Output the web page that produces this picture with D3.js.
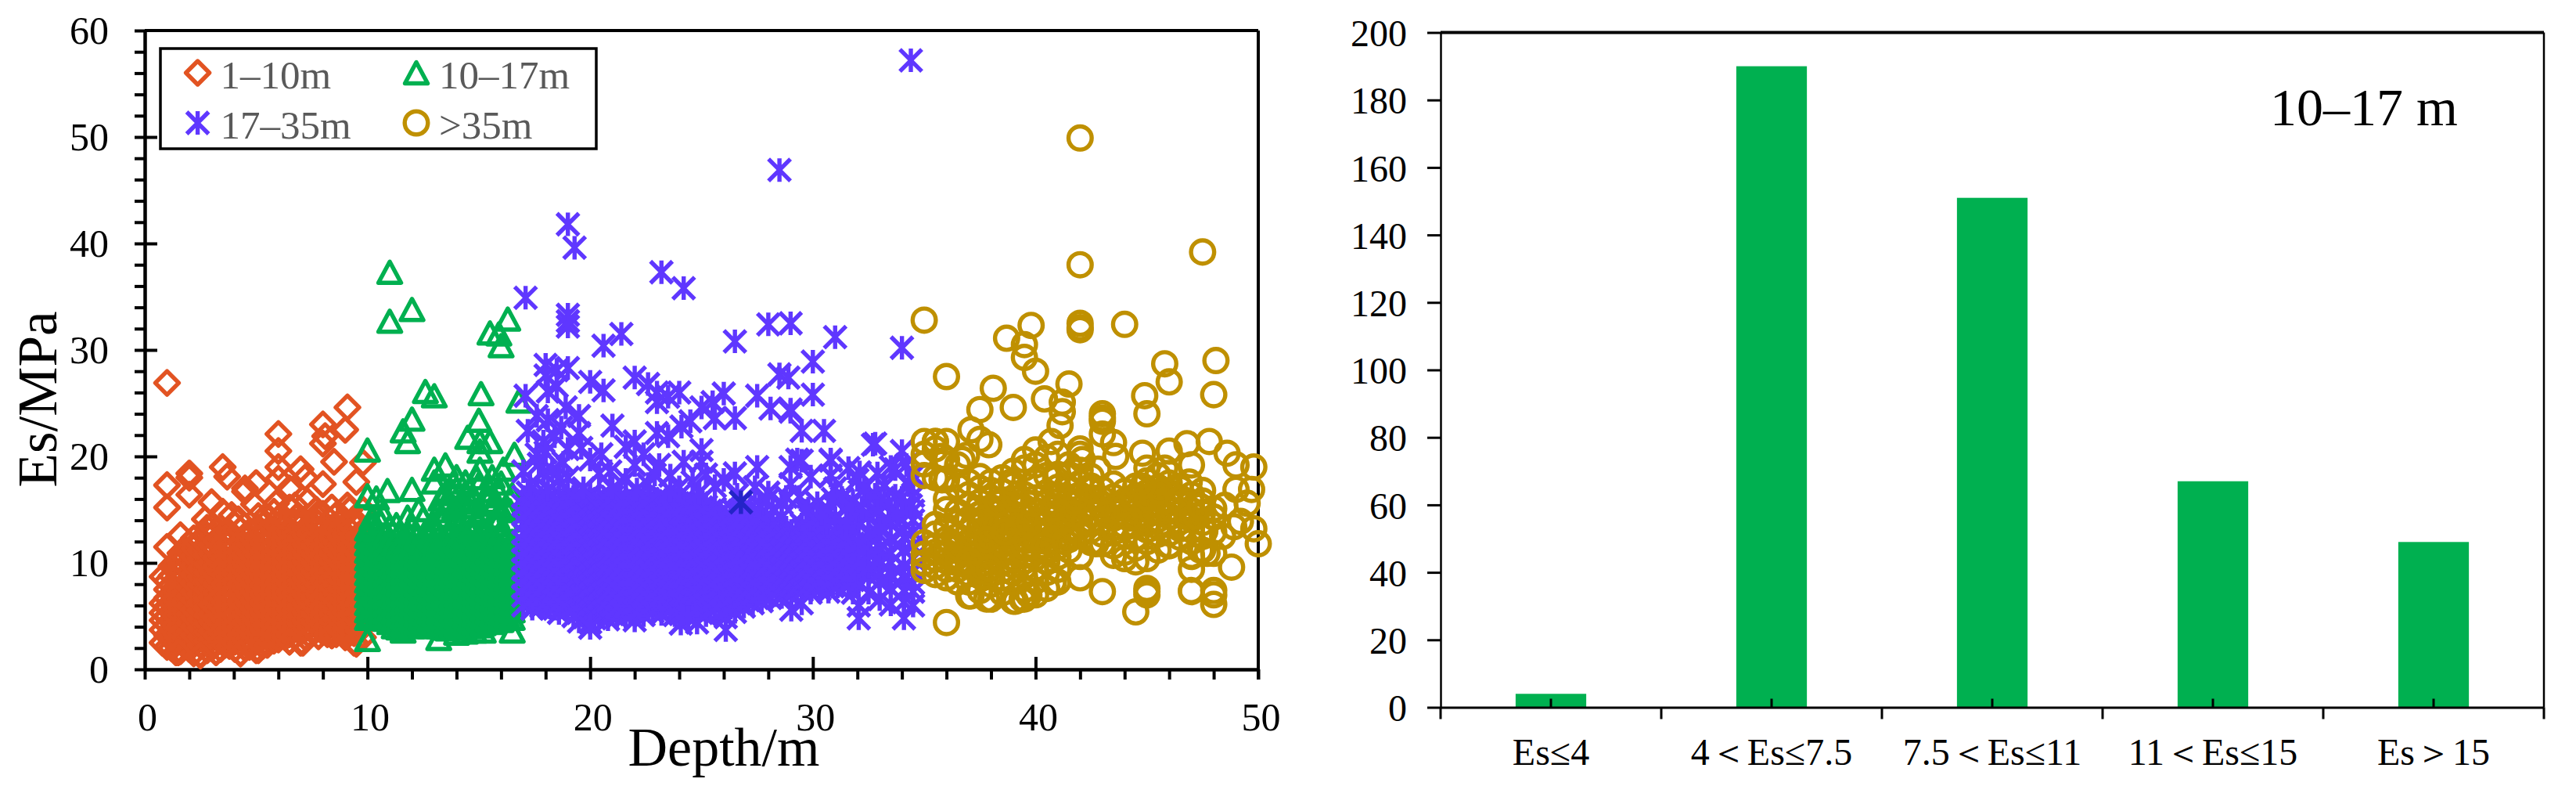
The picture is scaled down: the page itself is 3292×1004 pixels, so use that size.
<!DOCTYPE html>
<html>
<head>
<meta charset="utf-8">
<title>Es and depth</title>
<style>
	body { margin: 0; background: #fff; }
	text { font-family: "Liberation Serif", serif; fill: #000; }
	.tick text { font-family: "Liberation Serif", serif; fill: #000; }
</style>
</head>
<body>
<svg id="chart" width="3292" height="1004"></svg>
<script src="https://cdnjs.cloudflare.com/ajax/libs/d3/7.8.5/d3.min.js"></script>
<script>
// dense bands are kept as [depth, [Es, Es, ...]], loose points as [depth, Es]
var shallowDense = [
	[0.8,[2.5,3.7,4.6,5.3,6.2]],
	[1,[2.1,3.2,4.2,5,5.9,6.7,7.5,8.3]],
	[1.2,[2.0,2.9,3.8,4.6,5.4,6.2,7.1,7.9,8.8,9.7]],
	[1.4,[1.6,2.4,3.3,4.1,5,5.7,6.6,7.5,8.4,9.2,10.1]],
	[1.6,[1.7,2.6,3.4,4.2,5.1,5.8,6.6,7.4,8.3,9.1,10,10.9]],
	[1.8,[2.2,3,3.9,4.7,5.5,6.4,7.2,8,8.8,9.6,10.5,11.3]],
	[2,[1.9,2.8,3.6,4.4,5.2,6,6.9,7.7,8.5,9.2,10.1,11,11.8]],
	[2.2,[1.5,2.4,3.2,4,4.9,5.6,6.5,7.3,8.1,8.9,9.7,10.6,11.4,12.3]],
	[2.5,[1.4,2.3,3.1,3.9,4.7,5.6,6.3,7.1,8,8.7,9.5,10.4,11.2,12.2]],
	[2.8,[1.8,2.7,3.5,4.3,5.1,5.9,6.7,7.5,8.3,9.1,9.9,10.8,11.6,12.6,13.3]],
	[3,[2,2.8,3.6,4.5,5.2,6.1,6.8,7.6,8.4,9.3,10.1,10.9,11.7,12.5,13.4]],
	[3.2,[1.6,2.4,3.2,4.1,4.8,5.7,6.4,7.2,8.1,8.9,9.7,10.5,11.3,12.1,13]],
	[3.4,[1.9,2.7,3.5,4.3,5.1,5.9,6.8,7.6,8.3,9.1,10,10.8,11.6,12.4]],
	[3.6,[2.3,3.1,3.9,4.7,5.5,6.3,7.2,8,8.8,9.6,10.4,11.2,12,12.8]],
	[3.8,[2.2,3,3.8,4.6,5.5,6.3,7.1,7.9,8.7,9.5,10.3,11.1,11.9,12.9]],
	[4.05,[1.9,2.6,3.4,4.2,5,5.9,6.7,7.5,8.3,9.1,9.9,10.7,11.5,12.4,13.6]],
	[4.3,[1.5,2.4,3.2,4,4.8,5.6,6.4,7.2,8,8.8,9.6,10.4,11.2,12,13.1]],
	[4.5,[2,2.8,3.6,4.4,5.2,6,6.8,7.6,8.4,9.2,10,10.8,11.6,12.5]],
	[4.7,[2.1,2.9,3.7,4.5,5.3,6.1,6.9,7.7,8.5,9.3,10.1,10.9,11.8,12.5]],
	[4.9,[2.4,3.2,4,4.9,5.7,6.5,7.3,8.1,8.9,9.7,10.5,11.3,12.1,13]],
	[5.1,[1.8,2.7,3.5,4.3,5.1,5.9,6.7,7.5,8.3,9.1,9.9,10.7,11.5,12.3,13.3]],
	[5.3,[2.2,3,3.8,4.7,5.4,6.2,7,7.9,8.7,9.5,10.3,11.1,11.9,12.7]],
	[5.5,[2.3,3.1,3.9,4.7,5.5,6.3,7.1,7.9,8.7,9.5,10.3,11.1,12,12.9]],
	[5.8,[2.7,3.6,4.4,5.2,6,6.8,7.6,8.4,9.2,10,10.8,11.6,12.4,13.2,14.8]],
	[6,[2.8,3.4,4.2,5,5.8,6.6,7.4,8.2,9,9.8,10.6,11.4,12.2,13.6]],
	[6.3,[3,3.8,4.6,5.4,6.2,7,7.8,8.6,9.4,10.2,11,11.8,12.6,13.4]],
	[6.5,[2.6,3.3,4.1,4.9,5.7,6.5,7.3,8.1,8.9,9.7,10.5,11.3,12.1,13]],
	[6.75,[3.1,3.9,4.7,5.5,6.3,7.1,7.9,8.7,9.5,10.3,11.1,11.9,12.7,13.8,15.4]],
	[7,[2.5,3.5,4.3,5.1,5.9,6.7,7.5,8.3,9.1,9.9,10.7,11.5,12.4,13.5]],
	[7.2,[3,3.8,4.6,5.4,6.2,7,7.8,8.6,9.4,10.2,11,11.8,12.6,13.2]],
	[7.4,[3.2,4,4.8,5.6,6.4,7.2,8,8.8,9.6,10.4,11.2,12,12.9]],
	[7.6,[3.5,4.4,5.2,6,6.8,7.6,8.4,9.2,10,10.8,11.6,12.4,13.5]],
	[7.8,[3.1,3.9,4.7,5.5,6.3,7.1,7.9,8.7,9.5,10.3,11.1,11.9,13.7]],
	[8,[3.5,4.3,5.1,5.9,6.7,7.5,8.3,9.1,9.9,10.7,11.5,12.3,13.1,14.6]],
	[8.2,[3.3,4.1,4.9,5.7,6.5,7.3,8.1,8.9,9.7,10.5,11.3,12.1,12.8]],
	[8.4,[3.2,3.7,4.5,5.3,6.1,6.9,7.7,8.5,9.3,10.1,10.9,11.7,12.5,13.3]],
	[8.6,[3.3,4,4.8,5.6,6.4,7.2,8,8.8,9.6,10.4,11.2,12,13.4,14.5]],
	[8.8,[3.6,4.4,5.2,6,6.8,7.6,8.4,9.2,10,10.8,11.6,12.4,13.2]],
	[9,[3,3.8,4.6,5.4,6.2,7,7.8,8.6,9.4,10.2,11,11.8,12.7]],
	[9.2,[3.4,4.2,5,5.8,6.6,7.4,8.2,9,9.8,10.6,11.4,12.2,13.1,15]],
	[9.4,[2.5,3.4,4.2,5,5.8,6.6,7.4,8.2,9,9.8,10.6,11.4,12.2,14.1]],
	[9.6,[3.6,4.5,5.4,6.3,7.2,8.1,9,9.9,10.8,11.7,12.6,13.5]],
	[9.8,[3,4,5,6,7,8,9,10,11,12,13,15]]
];
var shallowLoose = [
	[1,26.9],[1,15.2],[1,17.3],[2,18.4],[2,18],[2,16.4],[3.5,19],[3.7,18.1],[4.5,17],[4.5,16.7],
	[5,17.5],[3,15.7],[3.5,14.8],[6,22.1],[6,20.5],[6,19],[6,17.9],[7,18.8],[7.2,18],[6.5,17],
	[8,23],[8.1,21.9],[8,21.2],[8.5,19.5],[9.1,24.6],[9,22.5],[9.8,19.4],[9.5,17.6],[8,17.4],
	[5.6,14.2],[4.2,14.1],[5.1,14.4],[1.6,12.6],[1,11.5],[0.8,8.7],[7.1,2.5],[2.5,1.3],[4.3,1.5],
	[9.5,2.4],[1.5,1.6],[5,1.8],[6.5,2.6],[8.4,3.2],[3.9,14.5],[5.9,15.6],[6.5,15.2],[7.3,15.8],
	[7.7,15],[8.4,15.2],[9.1,15.4],[4.9,15.5],[2.7,14.1],[6.1,14.4],[6.8,14.3],[8.9,14.2]
];
var middleDense = [
	[10,[2.8,4.8,5.5,6.2,6.9,7.6,8.3,9,9.7,10.4,11.1,11.8,12.5,13.2]],
	[10.2,[5.1,5.8,6.5,7.3,8,8.7,9.4,10.1,10.8,11.5,12.2,13.5,14.2]],
	[10.4,[4.8,5.5,6.3,7,7.7,8.4,9.1,9.8,10.5,11.2,11.9,13.1]],
	[10.6,[5,5.7,6.6,7.3,8,8.7,9.4,10.1,10.8,11.5,12.3,13.8]],
	[10.8,[4.7,5.4,6.1,6.8,7.5,8.2,8.9,9.6,10.3,11,11.7,12.6]],
	[11,[4.4,5,5.7,6.4,7.1,7.8,8.5,9.2,9.9,10.6,11.3,12.1,13.4]],
	[11.2,[4,4.7,5.4,6.1,6.8,7.5,8.2,8.9,9.6,10.3,11,11.8]],
	[11.4,[3.9,4.5,5.2,5.9,6.6,7.3,8,8.7,9.4,10.1,10.8,11.5,12.7]],
	[11.6,[3.6,4.2,4.9,5.6,6.3,7,7.7,8.4,9.1,9.8,10.5,11.2,12.3]],
	[11.8,[4.4,5.1,5.8,6.5,7.2,7.9,8.6,9.3,10,10.7,11.4,12.1,12.9]],
	[12,[4,4.7,5.4,6.1,6.8,7.5,8.2,8.9,9.6,10.3,11,11.7,13.4]],
	[12.2,[4.4,5.1,5.8,6.5,7.2,7.9,8.6,9.3,10,10.7,11.4,12.4]],
	[12.4,[4.1,4.8,5.5,6.2,6.9,7.6,8.3,9,9.7,10.4,11.1,11.9]],
	[12.6,[4.5,5.2,5.9,6.6,7.3,8,8.7,9.4,10.1,10.8,11.5,12.9]],
	[12.8,[4,4.7,5.4,6.1,6.8,7.5,8.2,8.9,9.6,10.3,11,12.5]],
	[13,[4.4,5.1,5.8,6.5,7.2,7.9,8.6,9.3,10,10.7,11.4,12.1,13.6]],
	[13.2,[2.9,4,4.7,5.4,6.1,6.8,7.5,8.2,8.9,9.6,10.3,11,11.7]],
	[13.4,[4.2,4.9,5.6,6.3,7,7.7,8.4,9.1,9.8,10.5,11.2,12.4,14.1]],
	[13.6,[3.8,4.5,5.2,5.9,6.6,7.3,8,8.7,9.4,10.1,10.8,11.5,12.8]],
	[13.8,[4.1,4.8,5.5,6.2,6.9,7.6,8.3,9,9.7,10.4,11.1,11.8,13.3]],
	[14,[3.4,4.2,4.9,5.6,6.3,7,7.7,8.4,9.1,9.8,10.5,11.2,12]],
	[14.2,[3.9,4.6,5.3,6,6.7,7.4,8.1,8.8,9.5,10.2,10.9,11.6,12.8,13.6]],
	[14.4,[3.5,4.3,5,5.7,6.4,7.1,7.8,8.5,9.2,9.9,10.6,11.3,12.5]],
	[14.6,[4,4.7,5.4,6.1,6.8,7.5,8.2,8.9,9.6,10.3,11,11.7,13.1]],
	[14.8,[3.6,4.4,5.1,5.8,6.5,7.2,7.9,8.6,9.3,10,10.7,11.4]],
	[15,[4.1,4.8,5.5,6.2,6.9,7.6,8.3,9,9.7,10.4,11.1,11.8,12.5,13.9]],
	[15.2,[3.6,4.3,5,5.7,6.4,7.1,7.8,8.5,9.2,9.9,10.6,11.3,12.7]],
	[15.4,[4.7,5.4,6.1,6.8,7.5,8.2,8.9,9.6,10.3,11,11.7,13.2]],
	[15.6,[4.4,5.1,5.8,6.5,7.2,7.9,8.6,9.3,10,10.7,11.4,12.2]],
	[15.8,[4.9,5.6,6.3,7,7.7,8.4,9.1,9.8,10.5,11.2,11.9,13.6]],
	[16,[4.6,5.3,6,6.7,7.4,8.1,8.8,9.5,10.2,10.9,11.6,12.9]],
	[16.25,[5,5.7,6.4,7.1,7.8,8.5,9.2,9.9,10.6,11.3,12.4,14]],
	[16.5,[3.6,4.8,5.5,6.2,6.9,7.6,8.3,9,9.7,10.4,11.1,12]]
];
var middleLoose = [
	[11,37.3],[11,32.7],[12,33.8],[16.3,32.9],[15.5,31.6],[15.9,31.5],[16,30.4],
	[12.6,26.1],[13,25.7],[15.1,25.9],[16.8,25.2],[12,23.5],[11.6,22.4],[11.8,21.4],[10,20.6],
	[15,23.4],[14.5,21.8],[15.05,21.4],[15.5,21.4],[15.05,20.5],[16.6,20.2],
	[13,18.8],[13.5,19.2],[14,18.1],[15.05,18.8],[16.1,18.8],[13,17.6],[10.9,16.8],[12,16.9],
	[10,16.3],[10.4,16.1],[11.8,14.3],[12.5,14.2],[14.7,14.8],[13.6,15.6],[14.5,15.3],[15.5,16.8],
	[13.5,16.5],[10.7,14.6],[14,17],[14.4,16.6],[15,17.4],[15.4,15.8],[16,17.5],[16.5,16.4],
	[13.2,14.9],[14,14.2],[15.1,14.9],[15.8,14.3],[16.2,15.2],[11.3,13.6],[12.9,13.5],[14.7,13.3],
	[13.3,16],[13.8,16.7],[14.2,15.7],[14.8,16],[15.3,16.3],[15.7,15.5],[16.4,14.9],[12.3,15],[13.9,15.2],
	[14.4,17.6],[14.9,18],[15.6,18.1],[15.9,16.6]
];
var deepDense = [
	[17,[6,6.9,7.7,8.6,9.4,10.3,11.1,12,12.8,13.7,14.5,15.4,16.2]],
	[17.2,[6.4,7.3,8.1,9,9.8,10.7,11.5,12.4,13.2,14.1,14.9,15.8,16.6]],
	[17.4,[5.7,6.6,7.4,8.3,9.1,10,10.8,11.7,12.5,13.4,14.2,15.1,15.9]],
	[17.6,[6.2,7,7.9,8.7,9.6,10.4,11.3,12.1,13,13.8,14.7,15.5]],
	[17.8,[5.9,6.8,7.6,8.5,9.3,10.2,11,11.9,12.7,13.6,14.4,15.3,16.1]],
	[18,[6.3,7.2,8,8.9,9.7,10.6,11.4,12.3,13.1,14,14.8,15.7,16.5]],
	[18.2,[5.8,6.7,7.5,8.4,9.2,10.1,10.9,11.8,12.6,13.5,14.3,15.2,16]],
	[18.4,[5.7,6.5,7.3,8.1,9,9.8,10.7,11.5,12.4,13.2,14.1,14.9,15.8]],
	[18.6,[5.3,6.2,7.1,7.9,8.8,9.6,10.5,11.3,12.2,13,13.9,14.7,15.6]],
	[18.8,[5.9,6.7,7.6,8.4,9.3,10.1,11,11.8,12.7,13.5,14.4,15.2,16.1]],
	[19,[5.6,6.5,7.3,8.2,9,9.9,10.7,11.6,12.4,13.3,14.1,15,15.9]],
	[19.25,[5,5.9,6.8,7.6,8.5,9.3,10.2,11,11.9,12.7,13.6,14.4,15.3,16.2]],
	[19.5,[4.5,5.4,6.3,7.2,8,8.9,9.7,10.6,11.4,12.3,13.1,14,14.8,15.7]],
	[19.75,[4.9,5.8,6.6,7.5,8.3,9.2,10,10.9,11.7,12.6,13.4,14.3,15.1,16]],
	[20,[4.4,5.3,6.1,7,7.8,8.7,9.5,10.4,11.2,12.1,12.9,13.8,14.6,15.5,16.4]],
	[20.2,[4.8,5.7,6.5,7.4,8.2,9.1,9.9,10.8,11.6,12.5,13.3,14.2,15,15.9]],
	[20.4,[5,5.9,6.7,7.6,8.4,9.3,10.1,11,11.8,12.7,13.5,14.4,15.2,16.1]],
	[20.6,[5.4,6.3,7.1,8,8.8,9.7,10.5,11.4,12.2,13.1,13.9,14.8,15.6]],
	[20.8,[4.7,5.6,6.4,7.3,8.1,9,9.8,10.7,11.5,12.4,13.2,14.1,14.9,15.8]],
	[21,[5.2,6,6.9,7.7,8.6,9.4,10.3,11.1,12,12.8,13.7,14.5,15.4,16.2]],
	[21.2,[4.9,5.8,6.6,7.5,8.3,9.2,10,10.9,11.7,12.6,13.4,14.3,15.1,16]],
	[21.4,[5.4,6.2,7.1,7.9,8.8,9.6,10.5,11.3,12.2,13,13.9,14.7,15.6]],
	[21.6,[5,5.9,6.7,7.6,8.4,9.3,10.1,11,11.8,12.7,13.5,14.4,15.2,16.2]],
	[21.8,[5.3,6.3,7.2,8,8.9,9.7,10.6,11.4,12.3,13.1,14,14.8,15.7]],
	[22,[4.6,5.5,6.3,7.2,8,8.9,9.7,10.6,11.4,12.3,13.1,14,14.8,15.7]],
	[22.2,[5.5,6.4,7.2,8.1,8.9,9.8,10.6,11.5,12.3,13.2,14,14.9,15.8]],
	[22.4,[5.1,6,6.8,7.7,8.5,9.4,10.2,11.1,11.9,12.8,13.6,14.5,15.3,16.2]],
	[22.6,[5.8,6.6,7.5,8.3,9.2,10,10.9,11.7,12.6,13.4,14.3,15.1,16]],
	[22.8,[5.4,6.3,7.1,8,8.8,9.7,10.5,11.4,12.2,13.1,13.9,14.8,15.6]],
	[23,[5.8,6.6,7.5,8.3,9.2,10,10.9,11.7,12.6,13.4,14.3,15.1,16]],
	[23.2,[5.2,6.1,6.9,7.8,8.6,9.5,10.3,11.2,12,12.9,13.7,14.6,15.4]],
	[23.4,[5.7,6.5,7.4,8.2,9.1,9.9,10.8,11.6,12.5,13.3,14.2,15,15.9]],
	[23.6,[5.6,6.5,7.3,8.2,9,9.9,10.7,11.6,12.4,13.3,14.1,15,15.8]],
	[23.8,[5.1,6,6.9,7.7,8.6,9.4,10.3,11.1,12,12.8,13.7,14.5,15.4]],
	[24.07,[4.3,5.3,6.2,7,7.9,8.7,9.6,10.4,11.3,12.1,13,13.8,14.7,15.6]],
	[24.25,[5.2,6.1,7,7.8,8.7,9.5,10.4,11.2,12.1,12.9,13.8,14.6,15.5]],
	[24.4,[5.7,6.6,7.4,8.3,9.1,10,10.8,11.7,12.5,13.4,14.2,15.1]],
	[24.6,[5.6,6.4,7.3,8.1,9,9.8,10.7,11.5,12.4,13.2,14.1,14.9,15.7]],
	[24.8,[4.4,5.4,6.3,7.1,8,8.8,9.7,10.5,11.4,12.2,13.1,13.9,14.8,15.6]],
	[25,[5.8,6.7,7.5,8.4,9.2,10.1,10.9,11.8,12.6,13.5,14.3,15.2]],
	[25.2,[5.1,6,6.8,7.7,8.5,9.4,10.2,11.1,11.9,12.8,13.6,14.5,15.3]],
	[25.4,[5.6,6.4,7.3,8.1,9,9.8,10.7,11.5,12.4,13.2,14.1,14.9]],
	[25.6,[5.8,6.6,7.5,8.3,9.2,10,10.9,11.7,12.6,13.4,14.3,15.1]],
	[25.85,[5.3,6.2,7.1,7.9,8.8,9.6,10.5,11.3,12.2,13,13.9,14.7]],
	[26.09,[3.7,4.9,5.8,6.7,7.5,8.4,9.2,10.1,10.9,11.8,12.6,13.5,14.3]],
	[26.3,[5.8,6.8,7.6,8.5,9.3,10.2,11,11.9,12.7,13.6,14.5]],
	[26.5,[5.4,6.3,7.1,8,8.8,9.7,10.5,11.4,12.2,13.1,13.9,14.8]],
	[26.7,[6.2,7.2,8,8.9,9.7,10.6,11.4,12.3,13.1,14,14.9]],
	[26.9,[5.9,6.8,7.6,8.5,9.3,10.2,11,11.9,12.7,13.6,14.4]],
	[27.1,[6.5,7.5,8.3,9.2,10,10.9,11.7,12.6,13.4,14.2]],
	[27.3,[6.2,7.1,7.9,8.8,9.6,10.5,11.3,12.2,13,13.9]],
	[27.5,[6.7,7.7,8.5,9.4,10.2,11.1,11.9,12.8,13.6]],
	[27.7,[6.4,7.3,8.1,9,9.8,10.7,11.5,12.4,13.2,14.6]],
	[27.9,[7,8,8.8,9.7,10.5,11.4,12.2,13.1,13.9]],
	[28.1,[6.7,7.6,8.4,9.3,10.1,11,11.8,12.7,13.5]],
	[28.35,[7.2,8.1,9,9.8,10.7,11.5,12.4,13.2]],
	[28.6,[6.8,7.7,8.5,9.4,10.2,11.1,11.9,12.8,14.3]],
	[28.8,[7.3,8.2,9,9.9,10.7,11.6,12.4,13.3]],
	[29.03,[5.6,7,7.9,8.7,9.6,10.4,11.3,12.1,13]],
	[29.25,[7.6,8.5,9.3,10.2,11,11.9,12.8]],
	[29.5,[6.2,7.4,8.2,9.1,9.9,10.8,11.6,12.5,13.6]],
	[29.7,[7.7,8.6,9.4,10.3,11.1,12,12.9]],
	[29.9,[7.2,8.1,8.9,9.8,10.6,11.5,12.3,14.1]],
	[30.1,[7.9,8.7,9.5,10.4,11.2,12.1,13]],
	[30.3,[7.5,8.4,9.2,10.1,10.9,11.8,12.6,13.3]],
	[30.5,[8,8.8,9.7,10.5,11.4,12.2]],
	[30.7,[7.3,8.2,9,9.9,10.7,11.6,12.4,15]],
	[30.9,[7.8,8.6,9.5,10.3,11.2,12]],
	[31.1,[7.8,8.7,9.5,10.4,11.2,12.1,13.4]],
	[31.35,[8.3,9.1,10,10.8,11.7,12.8]],
	[31.6,[7.9,8.8,9.6,10.5,11.3,12.5,15.3]],
	[31.8,[7.2,8.4,9.3,10.2,11,11.8,13.2]],
	[32.06,[4.8,6,8.2,9.3,10.1,11.1,12,13.9]],
	[32.5,[7.2,8.7,9.6,10.8,11.7,12.7,14.4]],
	[33,[6.6,8.2,9.1,10.2,11.4,12.6,13.5,15.8]],
	[33.5,[6.1,7.6,8.9,10,10.9,12.2,13.8,14.7]],
	[34.09,[4.8,6.3,7.4,8.6,9.7,11.2,12.4,13.1,15.2]],
	[34.5,[6,7.3,8.1,9.2,10.4,11.6,12.9,14,14.9,16.3]]
];
var deepLoose = [
	[34.4,57.2],[28.5,46.9],[19,41.8],[19.3,39.6],[23.2,37.3],[24.2,35.8],[17.1,34.9],
	[19,33.3],[19,32.7],[19,32.2],[21.4,31.5],[20.6,30.4],[26.5,30.8],[28,32.4],[29,32.5],
	[31,31.2],[30,28.9],[28.5,27.7],[28.9,27.4],[30,25.8],[34,30.2],
	[18,28.6],[18.5,28.1],[19,28.3],[18,27.6],[18.5,26.6],[18.1,26.1],[17.1,25.7],[20,27],[20.6,26.2],
	[22,27.4],[22.6,26.8],[23,26],[23,25.1],[24,26],[23.5,25.6],[26,25.9],[25.5,25.1],[25,24.6],
	[27.5,25.7],[28.1,24.5],[29,24.4],[29,24.2],[26.5,23.6],[25.6,23.6],[24.5,23.3],[24.1,22.8],
	[19.5,23.8],[21,22.9],[23,22.2],[23.5,21.9],[22,21.4],[29.5,22.4],[30.5,22.4],[32.7,21.1],
	[29.5,19.6],[29,19],[30.8,19.6],[31.6,18.9],[33.5,19],[32,17.8],[32.8,16.3],[25,20.6],[25,19.5],
	[24.2,19.5],[19,20.7],[19.5,22.2],[18.1,23.4],[17.9,21.4],[20,19.7],[17,18.6],[17.9,18.5],
	[27.5,19],[26.5,18.4],[28,16.6],[22,19.2],[22.4,20.2],[23.1,19.2],[32.8,21.2],[34,20.5],
	[29.3,19.7],[30.8,19.7],[32.8,16.4],[32.1,18.5],[31,17],[33.7,18.8],[33.7,16.3],[34.3,17.3],
	[30,14.1],[31.5,15.3],[33,15.8],[17.6,20.2],[18.4,21.9],[18.8,19.4],[17.3,17.4],[18.1,16.9],
	[19,18],[19.7,17],[18.6,17.8],[20.4,18.4],[21,17],[21.6,17.8],[22.6,17.4],[23.6,18.2],[24.6,17.6],
	[25.6,17.2],[26.6,16.4],[27.4,17.1],[28.6,15.6],[29.4,16.2],[30.2,15.6],[29,17.4],[30.6,13.8],
	[31.9,14.9],[32.9,18.4],[34.5,18.2],[34.2,19.2],[28.2,15],[27.6,15.4],[24.4,4.9],[20,3.9],
	[17.7,19.3],[18.3,18.7],[17.2,22.4],[18,20.4],[18.7,22.7],[19.6,20.8],[20.5,20.2],[17.6,23.8],[18.9,24.6],
	[21.6,20.9],[24,17.1],[22.9,18.3],[26,17.8],[25.2,18.3],[23.6,16.8],[20.9,18.6],[22.1,16.9],[24.9,16.6],
	[29.8,15.1],[30.4,14.6],[31,14.2],[31.3,16.1],[31.8,15.8],[32.2,15.2],[32.5,16.2],[32.9,14.8],
	[33.2,17.2],[33.4,15.6],[33.8,14.5],[34,16.1],[34.4,15.4],[30.9,16],[32.3,17],[33,13.2],[31.5,13.6],
	[28.8,16.2],[27.9,15.8],[27.2,15.2],[29.7,14.9],[30.8,18.2],[29.9,18.1]
];
var darkPoint = [[26.77,15.7]];
var bottomDense = [
	[35,[9.3,10,10.8,11.9,19.3,20.2,21.4]],
	[35.5,[8.9,9.7,10.4,11,11.6,12.7,13.6,18,20.7,21.4]],
	[36,[8.6,9.4,10.2,11,11.6,12.2,13.4,15,16,17.8,4.4,21.4,19.7]],
	[36.5,[8.2,9.4,10,10.6,11.5,12.5,13.8,14.8,17.2,19.2]],
	[37,[6.9,8.2,9,9.7,10.2,10.9,11.4,12,13,14.1,15.4,16.4,17.6]],
	[37.5,[7.4,8.8,9.3,9.8,10.4,10.9,11.7,12.6,13.5,14.6,15.7,17,18.1]],
	[38,[6.6,8,8.9,9.5,10.1,10.6,11.4,12.4,13.1,14.2,15.2,16,16.8,17.6]],
	[38.5,[7.2,8.6,9.3,10,10.8,11.2,11.8,12.5,13.3,14,15,15.9,16.7,18]],
	[39,[6.4,8.2,9.1,9.8,10.4,11.1,12,12.9,13.9,14.6,15.4,17.3,18.6]],
	[39.5,[6.6,7.5,8.8,9.6,10.2,10.7,11.5,12.3,13.2,14.4,15.2,16.4,18.9,19.7]],
	[40,[7,8.3,9.5,10.5,11.2,12.2,13.1,13.9,14.9,16.1,17.6,19.2,20.6]],
	[40.5,[7.6,9.1,10.1,11,12,12.9,13.7,14.7,15.6,16.6,18.2,19.9]],
	[41,[8.2,9.4,10.6,11.5,12.5,13.4,14.4,15.3,16.2,17.1,18.3,20.2]],
	[41.5,[11.2,12.2,13,14.1,15,15.9,17,18.2,19.2]],
	[42,[8.6,10.6,12.7,13.6,14.6,15.8,16.4,17.5,18.7]],
	[42.5,[11.9,13.1,14,15.2,16.1,17.2,18.1]],
	[43,[7.3,11.8,12.7,13.9,15,16,16.9]],
	[43.5,[10.7,11.6,13.3,14.2,15.2,16.2,17.4]],
	[44,[10.4,11,12.6,13.5,14.4,15.1,15.8,16.7]],
	[44.5,[10.1,11.4,12.4,13.5,14.3,14.9,15.6,16.3,17.2]],
	[45,[10.4,12,13.1,13.7,14.5,15.2,15.9,16.6,17.7]],
	[45.5,[11.2,12.7,13.4,14.1,14.8,15.4,16.2,17.1,18.2]],
	[46,[11.6,12.8,13.6,14.4,15,15.7,16.6,17.5,18.4]],
	[46.5,[12.4,13.2,13.9,14.7,15.5,16.1,17]],
	[47,[7.4,9.4,10.7,12,13.1,14.1,14.9,15.7,16.4]],
	[47.5,[11.2,12.5,13.8,14.7,15.8,16.8]],
	[48,[10.9,12.9,14.3,15.1]]
];
var bottomLoose = [
	[35,32.8],[36,27.5],[38.7,31.1],[39.8,32.3],[39.5,30.5],[39.5,29.3],[40,28],[42,49.9],[42,38],
	[42,32.5],[42,32.1],[42,31.9],[44,32.4],[45.8,28.7],[46,27],[47.5,39.2],[48.1,29],[48,25.8],
	[44.9,25.7],[45,24],[41.5,26.8],[41.2,25.1],[41.2,24.2],[41.1,22.9],[40.4,25.4],[40.7,21.4],
	[38.1,26.4],[37.5,24.4],[39,24.6],[37.1,22.5],[37.5,21.6],[37.9,21.1],[43,24],[43,23.6],[43,23.3],
	[43,22.1],[43.5,21.3],[43.6,20],[42,20.7],[42,20.2],[42.1,19.7],[42.8,18.8],
	[35.5,21.4],[36.9,20.1],[36.7,19.7],[35.8,20],[35,18.2],[35.8,17.8],[44.8,20.3],[46,20.5],
	[46.8,21.2],[47.8,21.4],[48.6,20.3],[49,19.2],[49.8,19],[47,19.2],[45,18.9],[45.8,18.9],
	[49,16.9],[49.7,16.9],[49.5,15.6],[48.5,15.4],[49.2,13.9],[49.8,13.2],[50,11.8],[48.8,9.6],
	[48,7.4],[48,7],[48,6.1],[47,7.3],[47,10.6],[47.7,10.9],[47.4,11.2],[45,7.6],[45,7.3],[45,7],
	[44.5,5.4],[42,10.7],[46,11.7],[42.7,11.8],[37.8,6.6],[37.1,6.9],[39.1,6.4],[39.4,6.6],[39.7,7],
	[39,8.2],[40.8,8.2],[41,9.4],[41,10.6],[37,10.2],[37,9],[37.9,9.5],[48.4,12.5],[48.9,13.4],[47.6,13],
	[37.2,13.6],[37.7,14.2],[38.2,13.4],[38.7,14.6],[39.2,13.2],[39.7,13.7],[40.2,12.7],[40.7,13.2],[41.2,13.9],
	[37.4,15.1],[38.3,15.6],[39.1,16],[39.9,15.6],[40.8,15.1],[41.7,14.6],[42.2,13.9],[42.7,14.6],[37.8,12.2],
	[38.6,12.9],[39.6,12.1],[40.4,11.6],[41.3,12],[43.7,14.7],[44.2,14.2],[44.7,15.4],[45.2,14.8],[45.7,15.8],
	[46.2,14.9],[43.9,15.6],[44.4,16],[45,16.2],[45.6,16.7],[46.4,15.9],[46.8,14.4],[47.2,14.4],[47.4,15.3],
	[43.2,14.6],[42.9,15.5],[41.8,16.2],[40.9,17.9],[38.9,17.6],[42.4,16.9],[44.8,17.2],[46.9,17.6]
];
var legendNames = ["1–10m", "10–17m", "17–35m", ">35m"];
var xMajor = [0, 10, 20, 30, 40, 50];
var xMinor = [2, 4, 6, 8, 12, 14, 16, 18, 22, 24, 26, 28, 32, 34, 36, 38, 42, 44, 46, 48];
var yMajor = [0, 10, 20, 30, 40, 50, 60];
var yMinor = [2, 4, 6, 8, 12, 14, 16, 18, 22, 24, 26, 28, 32, 34, 36, 38, 42, 44, 46, 48, 52, 54, 56, 58];
var barNames = ["Es≤4", "4＜Es≤7.5", "7.5＜Es≤11", "11＜Es≤15", "Es＞15"];
var barCounts = [4, 190, 151, 67, 49];
var countTicks = [0, 20, 40, 60, 80, 100, 120, 140, 160, 180, 200];

var orange = "#e25322", green = "#00b050", purple = "#5f37ff", gold = "#bf9000", dark = "#2424c8";

var svg = d3.select("#chart");

function flat(dense, loose) {
	var out = [];
	dense.forEach(function(c) { c[1].forEach(function(v) { out.push([c[0], v]); }); });
	return out.concat(loose);
}

var diamondPath = "M0,-15L15,0L0,15L-15,0Z";
var trianglePath = "M0,-13.5L14.5,13.5L-14.5,13.5Z";
var starPath = "M0,-15L0,15M-14,-14L14,14M-14,14L14,-14";
var circlePath = "M14.8,0A14.8,14.8 0 1 1 -14.8,0A14.8,14.8 0 1 1 14.8,0Z";

// left panel
var x = d3.scaleLinear().domain([0, 50]).range([185, 1608]);
var y = d3.scaleLinear().domain([0, 60]).range([855, 39]);
var left = svg.append("g");

left.append("g").attr("transform", "translate(0,855)")
	.call(d3.axisBottom(x).tickValues(xMinor).tickSize(13).tickSizeOuter(0).tickFormat(""))
	.call(style, 4);
var xMaj = left.append("g").attr("transform", "translate(0,855)")
	.call(d3.axisBottom(x).tickValues(xMajor).tickSize(13).tickSizeOuter(0).tickPadding(29).tickFormat(d3.format("d")))
	.call(style, 4);
xMaj.selectAll(".tick line").attr("y1", function(d) { return d == 0 || d == 50 ? 0 : -16; });
xMaj.selectAll("text").attr("font-size", 50).attr("dx", 3);

left.append("g").attr("transform", "translate(185,0)")
	.call(d3.axisLeft(y).tickValues(yMinor).tickSize(13).tickSizeOuter(0).tickFormat(""))
	.call(style, 4);
var yMaj = left.append("g").attr("transform", "translate(185,0)")
	.call(d3.axisLeft(y).tickValues(yMajor).tickSize(13).tickSizeOuter(0).tickPadding(33).tickFormat(d3.format("d")))
	.call(style, 4);
yMaj.selectAll(".tick line").attr("x2", -13).attr("x1", function(d) { return d == 0 || d == 60 ? 0 : 16; });
yMaj.selectAll("text").attr("font-size", 50);

left.append("line").attr("x1", x(0)).attr("x2", x(50)).attr("y1", y(60)).attr("y2", y(60))
	.attr("stroke", "#000").attr("stroke-width", 4);
left.append("line").attr("x1", x(50)).attr("x2", x(50)).attr("y1", y(60)).attr("y2", y(0) + 13)
	.attr("stroke", "#000").attr("stroke-width", 4);

function style(g, w) {
	g.selectAll(".domain").attr("stroke", "#000").attr("stroke-width", w);
	g.selectAll(".tick line").attr("stroke", "#000").attr("stroke-width", w);
}

function marks(data, path, color) {
	left.append("g").selectAll("path").data(data).enter().append("path")
		.attr("d", path)
		.attr("transform", function(d) { return "translate(" + x(d[0]) + "," + y(d[1]) + ")"; })
		.attr("fill", "none")
		.attr("stroke", color)
		.attr("stroke-width", 5.4)
		.attr("stroke-linejoin", "round");
}

marks(flat(shallowDense, shallowLoose), diamondPath, orange);
marks(flat(middleDense, middleLoose), trianglePath, green);
marks(flat(deepDense, deepLoose), starPath, purple);
marks(darkPoint, starPath, dark);
marks(flat(bottomDense, bottomLoose), circlePath, gold);

left.append("text").attr("transform", "translate(72,510) rotate(-90)")
	.attr("text-anchor", "middle").attr("font-size", 71).text("Es/MPa");
left.append("text").attr("x", 925).attr("y", 978)
	.attr("text-anchor", "middle").attr("font-size", 70).text("Depth/m");

// legend
var legendX = d3.scaleOrdinal().domain(legendNames).range([252.6, 532, 252.6, 532]);
var legendY = d3.scaleOrdinal().domain(legendNames).range([93, 93, 157, 157]);
var legendPath = [diamondPath, trianglePath, starPath, circlePath];
var legendColor = [orange, green, purple, gold];

left.append("rect").attr("x", 205).attr("y", 62).attr("width", 557).attr("height", 128)
	.attr("fill", "#fff").attr("stroke", "#000").attr("stroke-width", 3.5);
legendNames.forEach(function(name, i) {
	left.append("path").attr("d", legendPath[i])
		.attr("transform", "translate(" + legendX(name) + "," + legendY(name) + ")")
		.attr("fill", "none").attr("stroke", legendColor[i]).attr("stroke-width", 5.4)
		.attr("stroke-linejoin", "round");
	left.append("text").attr("x", legendX(name) + 29).attr("y", legendY(name) + 19.5)
		.attr("font-size", 51).style("fill", "#595959").text(name);
});

// right panel
var bx = d3.scaleBand().domain(barNames).range([1841, 3251]);
var by = d3.scaleLinear().domain([0, 200]).range([903.5, 41.5]);
var right = svg.append("g");

right.selectAll("rect").data(barCounts).enter().append("rect")
	.attr("x", function(d, i) { return bx(barNames[i]) + bx.bandwidth() * 0.34; })
	.attr("width", bx.bandwidth() * 0.32)
	.attr("y", function(d) { return by(d); })
	.attr("height", function(d) { return by(0) - by(d); })
	.attr("fill", green);

var cats = right.append("g").attr("transform", "translate(0,903.5)")
	.call(d3.axisBottom(bx).tickSize(-11).tickSizeOuter(0).tickPadding(0));
cats.selectAll(".domain").attr("stroke", "#000").attr("stroke-width", 3);
cats.selectAll(".tick line").attr("stroke", "#000").attr("stroke-width", 3);
cats.selectAll("text").attr("font-size", 48).attr("y", 73).attr("dy", 0);

right.append("g").attr("transform", "translate(0,903.5)").selectAll("line")
	.data(barNames.concat(["end"])).enter().append("line")
	.attr("x1", function(d, i) { return bx.range()[0] + i * bx.step(); })
	.attr("x2", function(d, i) { return bx.range()[0] + i * bx.step(); })
	.attr("y1", 0).attr("y2", 15)
	.attr("stroke", "#000").attr("stroke-width", 3);

var counts = right.append("g").attr("transform", "translate(1841,0)")
	.call(d3.axisLeft(by).tickValues(countTicks).tickSize(17).tickSizeOuter(0).tickPadding(26));
counts.selectAll(".domain").attr("stroke", "#000").attr("stroke-width", 2.5);
counts.selectAll(".tick line").attr("stroke", "#000").attr("stroke-width", 3);
counts.selectAll("text").attr("font-size", 48).attr("dy", "0.36em");

right.append("line").attr("x1", 1841).attr("x2", 3251).attr("y1", by(200)).attr("y2", by(200))
	.attr("stroke", "#000").attr("stroke-width", 4);
right.append("line").attr("x1", 3251).attr("x2", 3251).attr("y1", by(200)).attr("y2", by(0))
	.attr("stroke", "#000").attr("stroke-width", 2.5);
right.append("text").attr("x", 2901).attr("y", 160).attr("font-size", 68).text("10–17 m");
</script>
</body>
</html>
